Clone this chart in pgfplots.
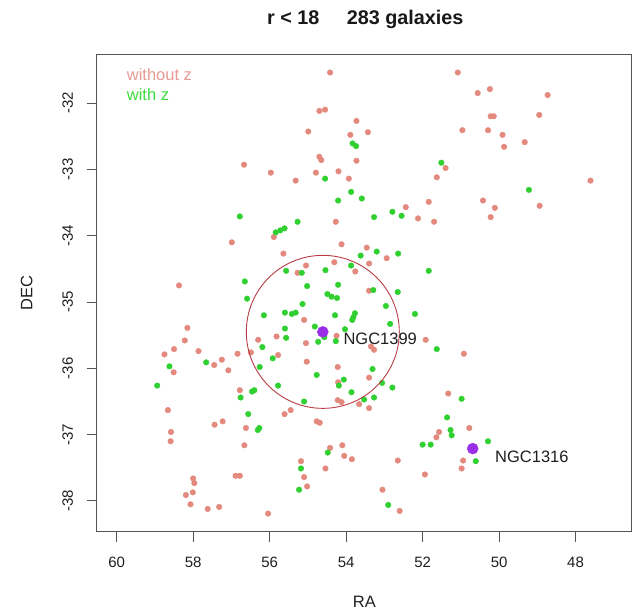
\documentclass[border=0pt]{standalone}
\usepackage{fontspec}
\setmainfont{Liberation Sans}
\usepackage{pgfplots}
\pgfplotsset{compat=1.18}
\definecolor{salmonc}{HTML}{E3897E}
\definecolor{greenc}{HTML}{30D030}
\definecolor{purplec}{HTML}{9B2FE8}
\definecolor{circlec}{HTML}{B83C46}
\definecolor{boxc}{HTML}{555555}
\definecolor{legsal}{HTML}{E69A92}
\definecolor{leggrn}{HTML}{3CDC3C}
\newcommand\fs{\fontsize{16.5bp}{19.8bp}\selectfont}
\newcommand\fst{\fontsize{15bp}{18bp}\selectfont}
\begin{document}
\begin{tikzpicture}
\path[use as bounding box] (0,0) rectangle (640bp,610bp);
\begin{axis}[
  at={(96.8bp,78.3bp)}, anchor=south west,
  width=535bp, height=476.7bp, scale only axis,
  xmin=46.53, xmax=60.52, ymin=-38.463, ymax=-31.276,
  x dir=reverse,
  xtick={48,50,52,54,56,58,60}, xticklabels={48,50,52,54,56,58,60},
  ytick={-38,-37,-36,-35,-34,-33,-32}, yticklabels={-38,-37,-36,-35,-34,-33,-32},
  tick align=outside, major tick length=10bp,
  xtick pos=left, ytick pos=left,
  axis line style={draw=boxc, line width=1bp},
  every tick/.style={draw=boxc, line width=1bp},
  tick label style={font=\fst, text=black!88},
  xticklabel style={anchor=base},
  xticklabel shift=25.3bp,
  yticklabel style={rotate=90, anchor=base},
  yticklabel shift=13.8bp,
]
\addplot[only marks, mark=*, mark size=2.8bp, color=salmonc] coordinates {
(56.67,-32.93) (55.97,-33.05) (54.42,-31.54) (54.70,-32.12) (54.55,-32.10)
(53.73,-32.27) (54.99,-32.43) (53.89,-32.48) (53.43,-32.44) (54.70,-32.81)
(54.65,-32.86) (53.73,-32.87) (54.79,-33.05) (54.20,-33.03) (55.32,-33.17)
(53.93,-33.14) (51.40,-32.98) (51.63,-33.12) (51.84,-33.49) (52.44,-33.57)
(51.08,-31.54) (50.56,-31.85) (50.24,-31.79) (48.73,-31.88) (50.22,-32.20)
(50.14,-32.20) (48.95,-32.18) (50.96,-32.41) (50.29,-32.41) (49.91,-32.48)
(49.87,-32.66) (49.33,-32.59) (47.61,-33.17) (50.42,-33.47) (50.11,-33.58)
(48.94,-33.55) (50.22,-33.72) (50.92,-35.78) (55.89,-34.02) (56.99,-34.10)
(58.37,-34.75) (58.15,-35.39) (58.22,-35.58) (58.50,-35.71) (58.75,-35.79)
(57.86,-35.74) (56.84,-35.78) (56.49,-35.76) (56.30,-35.57) (55.82,-35.52)
(55.78,-35.80) (57.45,-35.95) (57.25,-35.87) (58.51,-36.06) (57.08,-36.03)
(56.78,-36.33) (58.66,-36.63) (57.44,-36.85) (57.23,-36.80) (56.62,-36.90)
(58.58,-36.96) (58.59,-37.10) (56.66,-37.16) (56.89,-37.62) (56.78,-37.62)
(58.00,-37.66) (57.97,-37.73) (58.01,-37.87) (58.19,-37.91) (58.07,-38.05)
(57.62,-38.12) (57.32,-38.09) (56.04,-38.19) (54.27,-33.79) (52.12,-33.74)
(51.70,-33.79) (54.12,-34.13) (55.64,-34.27) (53.46,-34.18) (52.94,-34.34)
(54.31,-34.40) (55.05,-34.45) (53.40,-34.42) (55.27,-34.56) (53.76,-34.54)
(53.40,-34.83) (55.10,-35.27) (55.05,-35.62) (54.25,-35.51) (51.92,-35.57)
(53.27,-35.72) (53.35,-35.67) (55.03,-35.90) (54.22,-35.98) (54.21,-36.21)
(53.40,-36.14) (54.22,-36.48) (54.12,-36.51) (53.66,-36.54) (53.40,-36.60)
(55.45,-36.63) (55.61,-36.69) (54.77,-36.80) (54.69,-36.82) (51.33,-36.38)
(51.57,-36.96) (51.64,-37.04) (54.10,-37.16) (54.42,-37.20) (54.05,-37.32)
(53.85,-37.37) (55.18,-37.40) (54.54,-37.51) (52.65,-37.39) (55.10,-37.64)
(55.02,-37.78) (51.94,-37.60) (53.05,-37.83) (52.60,-38.15) (50.78,-36.90)
(50.94,-37.39) (50.98,-37.51)
};
\addplot[only marks, mark=*, mark size=2.8bp, color=greenc] coordinates {
(53.83,-32.61) (53.74,-32.65) (54.55,-33.14) (53.87,-33.34) (54.21,-33.47)
(53.59,-33.44) (51.51,-32.90) (49.22,-33.31) (56.78,-33.71) (55.84,-33.95)
(56.65,-34.69) (56.59,-34.95) (56.15,-35.20) (56.19,-35.68) (55.92,-35.85)
(58.62,-35.97) (57.66,-35.91) (56.26,-35.98) (58.94,-36.26) (56.46,-36.35)
(56.40,-36.33) (56.76,-36.44) (55.78,-36.26) (56.56,-36.69) (56.27,-36.90)
(56.31,-36.93) (55.27,-33.79) (53.27,-33.72) (52.79,-33.64) (52.55,-33.70)
(55.72,-33.92) (55.61,-33.89) (53.20,-34.24) (53.62,-34.30) (52.64,-34.27)
(53.87,-34.45) (55.57,-34.53) (55.16,-34.56) (54.54,-34.52) (51.84,-34.53)
(55.02,-34.76) (54.21,-34.74) (53.29,-34.82) (52.65,-34.85) (54.49,-34.88)
(54.38,-34.92) (54.24,-34.94) (55.14,-35.03) (52.96,-35.06) (55.60,-35.16)
(55.42,-35.18) (55.32,-35.16) (54.29,-35.20) (53.77,-35.17) (53.81,-35.23)
(53.84,-35.27) (52.20,-35.18) (52.85,-35.33) (55.60,-35.40) (54.82,-35.37)
(54.57,-35.53) (54.73,-35.60) (54.03,-35.41) (55.57,-35.54) (54.27,-35.59)
(51.63,-35.71) (53.31,-36.01) (54.77,-36.10) (54.19,-36.26) (54.06,-36.17)
(53.86,-36.36) (53.06,-36.22) (52.79,-36.29) (55.10,-36.50) (53.53,-36.47)
(53.27,-36.44) (51.36,-36.74) (51.27,-36.93) (51.24,-37.01) (52.00,-37.15)
(51.79,-37.15) (54.48,-37.27) (55.18,-37.51) (55.23,-37.83) (52.90,-38.06)
(50.98,-36.46) (50.29,-37.10) (50.61,-37.40)
};
\addplot[only marks, mark=*, mark size=5.5bp, color=purplec] coordinates {
(54.61,-35.45) (50.69,-37.21)
};
\coordinate (n1399) at (axis cs:54.61,-35.45);
\end{axis}
\draw[circlec, line width=0.9bp] (n1399) circle[radius=76.5bp];
\node[anchor=base west, inner sep=0, font=\fs, text=black!88] at (343.3bp,265bp) {NGC1399};
\node[anchor=base west, inner sep=0, font=\fs, text=black!88] at (495bp,147.7bp) {NGC1316};
\node[anchor=base west, inner sep=0, font=\fs, text=legsal] at (126.7bp,529bp) {without z};
\node[anchor=base west, inner sep=0, font=\fs, text=leggrn] at (126.7bp,509.5bp) {with z};
\node[anchor=base, inner sep=0, font=\fontsize{19.8bp}{23bp}\selectfont\bfseries, text=black!90] at (365.3bp,585bp) {r < 18\hspace{27.4bp}283 galaxies};
\node[anchor=base, inner sep=0, font=\fs, text=black!88] at (364.3bp,2.5bp) {RA};
\node[anchor=base, inner sep=0, rotate=90, font=\fs, text=black!88] at (32.4bp,316.7bp) {DEC};
\end{tikzpicture}
\end{document}
